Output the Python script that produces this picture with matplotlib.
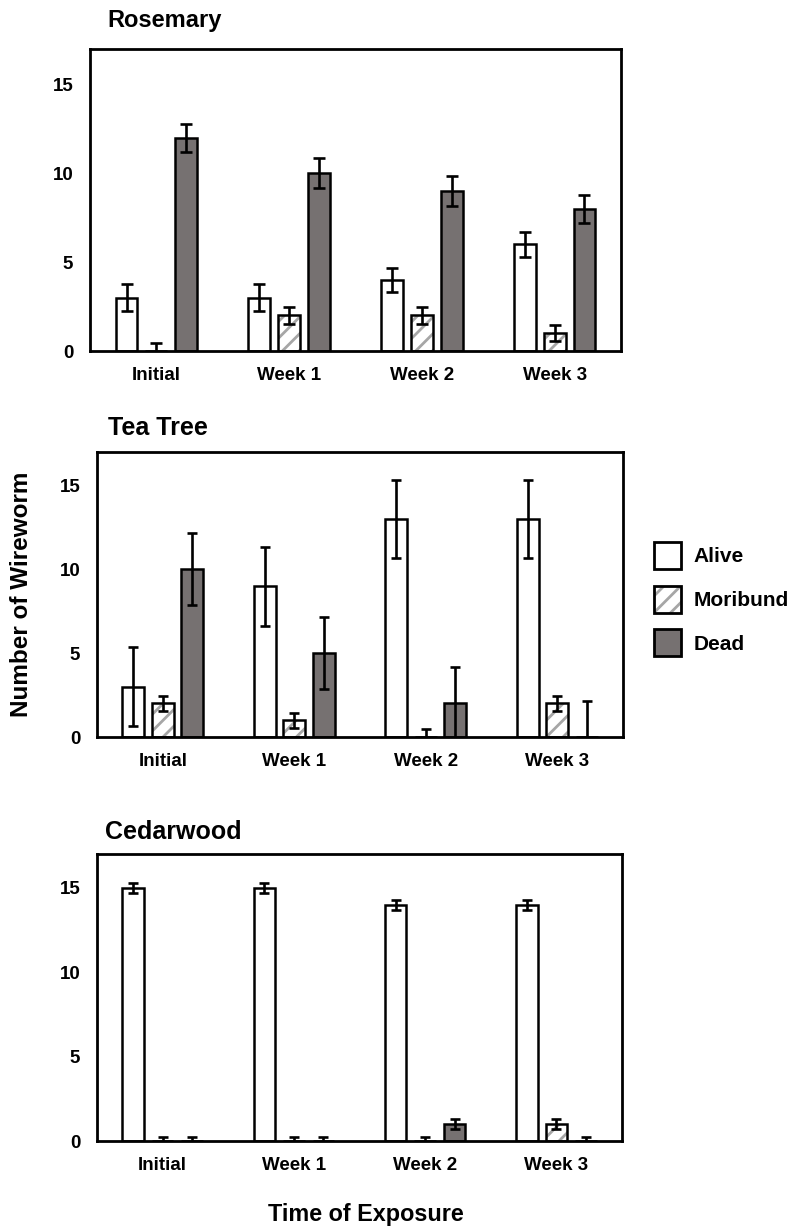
import matplotlib
matplotlib.use("Agg")
import matplotlib.pyplot as plt
from matplotlib.patches import Patch
import numpy as np

plt.rcParams['font.family'] = ['Liberation Sans', 'DejaVu Sans']
plt.rcParams['font.weight'] = 'bold'
plt.rcParams['hatch.linewidth'] = 2.0

# exposure times on the x axis
weeks = ['Initial', 'Week 1', 'Week 2', 'Week 3']
status = ['Alive', 'Moribund', 'Dead']

# mean counts per oil and status
rosemary_alive = [3, 3, 4, 6]
rosemary_moribund = [0, 2, 2, 1]
rosemary_dead = [12, 10, 9, 8]
rosemary_alive_err = [0.75, 0.75, 0.7, 0.7]
rosemary_moribund_err = [0.45, 0.5, 0.5, 0.45]
rosemary_dead_err = [0.8, 0.85, 0.85, 0.8]

teatree_alive = [3, 9, 13, 13]
teatree_moribund = [2, 1, 0, 2]
teatree_dead = [10, 5, 2, 0]
teatree_alive_err = [2.35, 2.35, 2.35, 2.35]
teatree_moribund_err = [0.45, 0.45, 0.45, 0.45]
teatree_dead_err = [2.15, 2.15, 2.15, 2.15]

cedar_alive = [15, 15, 14, 14]
cedar_moribund = [0, 0, 0, 1]
cedar_dead = [0, 0, 1, 0]
cedar_alive_err = [0.3, 0.3, 0.3, 0.3]
cedar_moribund_err = [0.25, 0.25, 0.25, 0.3]
cedar_dead_err = [0.25, 0.25, 0.3, 0.25]

dead_color = '#767171'
hatch_color = '#a6a6a6'
W, H = 790, 1227

fig = plt.figure(figsize=(7.9, 12.27), dpi=100)


def px_box(left, top, right, bottom):
    return [left / W, 1 - bottom / H, (right - left) / W, (bottom - top) / H]


def draw_panel(ax, alive, moribund, dead, errs, capsize):
    x = np.arange(len(weeks))
    off, bw = 0.225, 0.165
    ax.bar(x - off, alive, bw, color='white', edgecolor='black', linewidth=1.8, zorder=2)
    # hatch first with grey lines, then a black outline over it
    ax.bar(x, moribund, bw, color='white', edgecolor=hatch_color, hatch='//', linewidth=0, zorder=2)
    ax.bar(x, moribund, bw, fill=False, edgecolor='black', linewidth=1.8, zorder=3)
    ax.bar(x + off, dead, bw, color=dead_color, edgecolor='black', linewidth=1.8, zorder=2)
    for pos, vals, err in zip([x - off, x, x + off], [alive, moribund, dead], errs):
        ax.errorbar(pos, vals, yerr=err, fmt='none', ecolor='black', elinewidth=1.9,
                    capsize=capsize, capthick=1.9, zorder=4)
    ax.set_xlim(-0.5, 3.5)
    ax.set_ylim(0, 17)
    ax.set_yticks([0, 5, 10, 15])
    ax.set_xticks(x)
    ax.set_xticklabels(weeks)
    ax.tick_params(length=0, labelsize=13.5)
    ax.tick_params(axis='y', pad=12)
    ax.tick_params(axis='x', pad=11.5)
    for sp in ax.spines.values():
        sp.set_linewidth(2)


ax1 = fig.add_axes(px_box(90, 49, 621, 351))
draw_panel(ax1, rosemary_alive, rosemary_moribund, rosemary_dead,
           [rosemary_alive_err, rosemary_moribund_err, rosemary_dead_err], 4.5)
ax2 = fig.add_axes(px_box(97, 452, 623, 737))
draw_panel(ax2, teatree_alive, teatree_moribund, teatree_dead,
           [teatree_alive_err, teatree_moribund_err, teatree_dead_err], 3.5)
ax3 = fig.add_axes(px_box(97, 854, 622, 1141))
draw_panel(ax3, cedar_alive, cedar_moribund, cedar_dead,
           [cedar_alive_err, cedar_moribund_err, cedar_dead_err], 3.5)

fig.text(107 / W, 1 - 20 / H, 'Rosemary', fontsize=17, va='center', ha='left')
fig.text(108 / W, 1 - 428 / H, 'Tea Tree', fontsize=18, va='center', ha='left')
fig.text(105 / W, 1 - 832 / H, 'Cedarwood', fontsize=18, va='center', ha='left')

fig.text(22 / W, 1 - 594 / H, 'Number of Wireworm', fontsize=17.5, rotation=90,
         va='center', ha='center')
fig.text(366 / W, 1 - 1215 / H, 'Time of Exposure', fontsize=16.8, va='center', ha='center')

handles = [
    Patch(facecolor='white', edgecolor='black', linewidth=2),
    (Patch(facecolor='white', edgecolor=hatch_color, hatch='//', linewidth=0),
     Patch(fill=False, edgecolor='black', linewidth=2)),
    Patch(facecolor=dead_color, edgecolor='black', linewidth=2),
]
fig.legend(handles, status, loc='upper left', bbox_to_anchor=(654 / W, 1 - 542 / H),
           frameon=False, fontsize=15, borderpad=0, borderaxespad=0,
           handlelength=1.3, handleheight=1.62, handletextpad=0.58, labelspacing=0.8)

plt.savefig('out.png', dpi=100)
